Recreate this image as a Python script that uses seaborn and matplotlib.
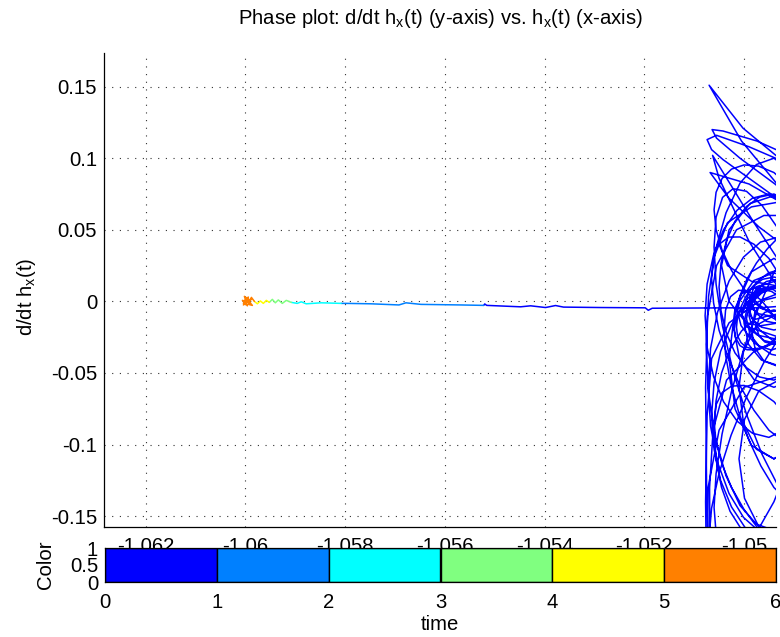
import numpy as np
import pandas as pd
import matplotlib
matplotlib.use("Agg")
import matplotlib.pyplot as plt
import seaborn as sns

# ---------------------------------------------------------------------------
# h_x(t) and d/dt h_x(t), one pair of arrays per unit of time
# ---------------------------------------------------------------------------
# t in [0, 1): oscillating start, then slow drift to the left
hx_t0 = [
    # spike
    -1.04905, -1.05002, -1.05070, -1.05005, -1.04936, -1.04905,
    # large loop
    -1.04872, -1.04940, -1.04975, -1.05008, -1.05036, -1.05058, -1.05071, -1.05076,
    -1.05071, -1.05058, -1.05036, -1.05008, -1.04975, -1.04940, -1.04872,
    # small loop
    -1.04900, -1.04930, -1.04960, -1.04982, -1.04990, -1.04982, -1.04960, -1.04930, -1.04900,
    # medium loop
    -1.04873, -1.04930, -1.04988, -1.05030, -1.05045, -1.05030, -1.04988, -1.04930, -1.04873,
    # spike
    -1.04910, -1.04974, -1.05042, -1.05064, -1.05055, -1.05008, -1.04938, -1.04910,
    # large loop
    -1.04859, -1.04930, -1.04967, -1.05001, -1.05030, -1.05053, -1.05067, -1.05072,
    -1.05067, -1.05053, -1.05030, -1.05001, -1.04967, -1.04930, -1.04859,
    # small loop
    -1.04915, -1.04940, -1.04965, -1.04983, -1.04990, -1.04983, -1.04965, -1.04940, -1.04915,
    # swing up from below
    -1.04900, -1.05070, -1.05075, -1.05077, -1.05073, -1.05055, -1.05015, -1.04960, -1.04910,
    # medium loop
    -1.04900, -1.04940, -1.04980, -1.05009, -1.05020, -1.05009, -1.04980, -1.04940, -1.04900,
    # large loop
    -1.04886, -1.04950, -1.04983, -1.05014, -1.05041, -1.05061, -1.05074, -1.05078,
    -1.05074, -1.05061, -1.05041, -1.05014, -1.04983, -1.04950, -1.04886,
    # small loop
    -1.04930, -1.04950, -1.04970, -1.04985, -1.04990, -1.04985, -1.04970, -1.04950, -1.04930,
    # spike
    -1.04905, -1.04990, -1.05068, -1.05030, -1.04970, -1.04905,
    # medium loop
    -1.04895, -1.04940, -1.04985, -1.05018, -1.05030, -1.05018, -1.04985, -1.04940, -1.04895,
    # large loop
    -1.04862, -1.04930, -1.04965, -1.04998, -1.05025, -1.05047, -1.05060, -1.05065,
    -1.05060, -1.05047, -1.05025, -1.04998, -1.04965, -1.04930, -1.04862,
    # small loop
    -1.04895, -1.04930, -1.04965, -1.04991, -1.05000, -1.04991, -1.04965, -1.04930, -1.04895,
    # spike
    -1.04910, -1.04990, -1.05055, -1.05074, -1.05065, -1.05042, -1.04974, -1.04910,
    # medium loop
    -1.04890, -1.04930, -1.04970, -1.04999, -1.05010, -1.04999, -1.04970, -1.04930, -1.04890,
    # large loop
    -1.04885, -1.04940, -1.04969, -1.04995, -1.05018, -1.05035, -1.05046, -1.05050,
    -1.05046, -1.05035, -1.05018, -1.04995, -1.04969, -1.04940, -1.04885,
    # small loop
    -1.04918, -1.04940, -1.04963, -1.04979, -1.04985, -1.04979, -1.04963, -1.04940, -1.04918,
    # swing down below
    -1.04910, -1.04980, -1.05035, -1.05062, -1.05069, -1.05068, -1.04900,
    # flat loop
    -1.04855, -1.04920, -1.04985, -1.05033, -1.05050, -1.05033, -1.04985, -1.04920, -1.04855,
    # large loop
    -1.04895, -1.04950, -1.04979, -1.05005, -1.05028, -1.05045, -1.05056, -1.05060,
    -1.05056, -1.05045, -1.05028, -1.05005, -1.04979, -1.04950, -1.04895,
    # small loops
    -1.04910, -1.04935, -1.04960, -1.04978, -1.04985, -1.04978, -1.04960, -1.04935, -1.04910,
    -1.04920, -1.04945, -1.04970, -1.04988, -1.04995, -1.04988, -1.04970, -1.04945, -1.04920,
    -1.04905, -1.04940, -1.04975, -1.05001, -1.05010, -1.05001, -1.04975, -1.04940, -1.04905,
    -1.04895, -1.04925, -1.04955, -1.04977, -1.04985, -1.04977, -1.04955, -1.04925, -1.04895,
    -1.04923, -1.04940, -1.04958, -1.04970, -1.04975, -1.04970, -1.04958, -1.04940, -1.04923,
    # tilted loops
    -1.04865, -1.04930, -1.04964, -1.04995, -1.05022, -1.05043, -1.05056, -1.05060,
    -1.05056, -1.05043, -1.05022, -1.04995, -1.04964, -1.04930, -1.04865,
    -1.04880, -1.04940, -1.04971, -1.05000, -1.05025, -1.05044, -1.05056, -1.05060,
    -1.05056, -1.05044, -1.05025, -1.05000, -1.04971, -1.04940, -1.04880,
    -1.04893, -1.04950, -1.04980, -1.05008, -1.05031, -1.05050, -1.05061, -1.05065,
    -1.05061, -1.05050, -1.05031, -1.05008, -1.04980, -1.04950, -1.04893,
    # swing up from below
    -1.04900, -1.05075, -1.05077, -1.05074, -1.05065, -1.05030, -1.04970, -1.04910,
    # tilted loops
    -1.04845, -1.04920, -1.04959, -1.04995, -1.05026, -1.05050, -1.05065, -1.05070,
    -1.05065, -1.05050, -1.05026, -1.04995, -1.04959, -1.04920, -1.04845,
    -1.04890, -1.04940, -1.04966, -1.04990, -1.05011, -1.05027, -1.05037, -1.05040,
    -1.05037, -1.05027, -1.05011, -1.04990, -1.04966, -1.04940, -1.04890,
    # spike
    -1.04905, -1.04980, -1.05063, -1.05050, -1.04990, -1.04905,
    # tilted loops
    -1.04885, -1.04930, -1.04953, -1.04975, -1.04994, -1.05008, -1.05017, -1.05020,
    -1.05017, -1.05008, -1.04994, -1.04975, -1.04953, -1.04930, -1.04885,
    -1.04880, -1.04940, -1.04971, -1.05000, -1.05025, -1.05044, -1.05056, -1.05060,
    -1.05056, -1.05044, -1.05025, -1.05000, -1.04971, -1.04940, -1.04880,
    # swing down below
    -1.04910, -1.05000, -1.05050, -1.05072, -1.05074, -1.04900,
    # tilted loops
    -1.04880, -1.04940, -1.04971, -1.05000, -1.05025, -1.05044, -1.05056, -1.05060,
    -1.05056, -1.05044, -1.05025, -1.05000, -1.04971, -1.04940, -1.04880,
    -1.04918, -1.04950, -1.04967, -1.04983, -1.04996, -1.05006, -1.05013, -1.05015,
    -1.05013, -1.05006, -1.04996, -1.04983, -1.04967, -1.04950, -1.04918,
    -1.04913, -1.04940, -1.04968, -1.04988, -1.04995, -1.04988, -1.04968, -1.04940, -1.04913,
    -1.04893, -1.04930, -1.04968, -1.04995, -1.05005, -1.04995, -1.04968, -1.04930, -1.04893,
    -1.04910, -1.04945, -1.04980, -1.05006, -1.05015, -1.05006, -1.04980, -1.04945, -1.04910,
    # last small loop
    -1.04908, -1.04940, -1.04973, -1.04996, -1.05005, -1.04996, -1.04973, -1.04940, -1.04908,
    # leaving the oscillation, drifting left
    -1.04930, -1.04970, -1.05022, -1.05088, -1.05184, -1.05192, -1.05198, -1.05288,
    -1.05362, -1.05378, -1.05398, -1.05428, -1.05448, -1.05516, -1.05520, -1.05522,
]
dhx_t0 = [
    0.093, 0.121, 0.151, 0.112, 0.083, 0.072,
    -0.1426, -0.16, -0.1556, -0.1426, -0.1219, -0.095, -0.0637, -0.03,
    0.0037, 0.035, 0.0619, 0.0826, 0.0956, 0.1, 0.0826,
    -0.0273, -0.03, -0.0273, -0.02, -0.01, 0.0, 0.0073, 0.01, 0.0073,
    -0.0183, -0.025, -0.0183, 0.0, 0.025, 0.05, 0.0683, 0.075, 0.0683,
    0.102, 0.112, 0.119, 0.12, 0.114, 0.1, 0.082, 0.074,
    -0.1509, -0.165, -0.1614, -0.1509, -0.1342, -0.1125, -0.0872, -0.06,
    -0.0328, -0.0075, 0.0142, 0.0309, 0.0414, 0.045, 0.0309,
    -0.018, -0.02, -0.018, -0.0125, -0.005, 0.0025, 0.008, 0.01, 0.008,
    -0.2, -0.2, -0.13, -0.06, -0.01, 0.025, 0.05, 0.06, 0.06,
    -0.0546, -0.06, -0.0546, -0.04, -0.02, 0.0, 0.0146, 0.02, 0.0146,
    -0.0836, -0.095, -0.0921, -0.0836, -0.0701, -0.0525, -0.032, -0.01,
    0.012, 0.0325, 0.0501, 0.0636, 0.0721, 0.075, 0.0636,
    -0.0087, -0.01, -0.0087, -0.005, 0.0, 0.005, 0.0087, 0.01, 0.0087,
    0.065, 0.082, 0.09, 0.072, 0.052, 0.035,
    -0.1006, -0.11, -0.1006, -0.075, -0.04, -0.005, 0.0206, 0.03, 0.0206,
    -0.1579, -0.17, -0.1669, -0.1579, -0.1436, -0.125, -0.1033, -0.08,
    -0.0567, -0.035, -0.0164, -0.0021, 0.0069, 0.01, -0.0021,
    -0.041, -0.045, -0.041, -0.03, -0.015, 0.0, 0.011, 0.015, 0.011,
    0.096, 0.108, 0.116, 0.113, 0.106, 0.099, 0.082, 0.066,
    -0.1576, -0.165, -0.1576, -0.1375, -0.11, -0.0825, -0.0624, -0.055, -0.0624,
    -0.0463, -0.055, -0.0528, -0.0463, -0.036, -0.0225, -0.0068, 0.01,
    0.0268, 0.0425, 0.056, 0.0663, 0.0728, 0.075, 0.0663,
    -0.0054, -0.007, -0.0054, -0.001, 0.005, 0.011, 0.0154, 0.017, 0.0154,
    -0.025, -0.035, -0.055, -0.09, -0.13, -0.2, -0.2,
    0.014, 0.01, 0.014, 0.025, 0.04, 0.055, 0.066, 0.07, 0.066,
    -0.1593, -0.17, -0.1673, -0.1593, -0.1466, -0.13, -0.1107, -0.09,
    -0.0693, -0.05, -0.0334, -0.0207, -0.0127, -0.01, -0.0207,
    -0.0417, -0.045, -0.0417, -0.0325, -0.02, -0.0075, 0.0017, 0.005, 0.0017,
    -0.0311, -0.034, -0.0311, -0.023, -0.012, -0.001, 0.0071, 0.01, 0.0071,
    -0.1033, -0.11, -0.1033, -0.085, -0.06, -0.035, -0.0167, -0.01, -0.0167,
    -0.0139, -0.016, -0.0139, -0.008, 0.0, 0.008, 0.0139, 0.016, 0.0139,
    -0.0284, -0.03, -0.0284, -0.024, -0.018, -0.012, -0.0076, -0.006, -0.0076,
    -0.1569, -0.13, -0.1067, -0.0789, -0.0485, -0.0174, 0.0121, 0.038,
    0.0587, 0.0726, 0.0787, 0.0769, 0.0671, 0.05, -0.0011,
    -0.0873, -0.14, -0.1591, -0.1713, -0.176, -0.1727, -0.1618, -0.144,
    -0.1204, -0.0927, -0.0628, -0.0327, -0.0045, 0.02, 0.0513,
    -0.105, -0.09, -0.0761, -0.059, -0.0399, -0.0202, -0.0011, 0.016,
    0.0299, 0.0398, 0.0449, 0.045, 0.0399, 0.03, -0.001,
    -0.2, -0.2, -0.14, -0.08, -0.04, -0.015, 0.0, 0.005,
    -0.1131, -0.16, -0.1771, -0.1881, -0.1926, -0.19, -0.1806, -0.165,
    -0.1444, -0.12, -0.0936, -0.0669, -0.0419, -0.02, 0.0081,
    -0.147, -0.13, -0.115, -0.097, -0.077, -0.0567, -0.0372, -0.02,
    -0.0062, 0.0033, 0.0078, 0.007, 0.001, -0.01, -0.043,
    0.015, 0.055, 0.102, 0.086, 0.042, -0.005,
    -0.0068, -0.025, -0.0308, -0.0338, -0.0338, -0.0309, -0.0252, -0.017,
    -0.007, 0.0041, 0.0156, 0.0268, 0.0368, 0.045, 0.0538,
    -0.1813, -0.17, -0.159, -0.1453, -0.13, -0.1138, -0.0982, -0.084,
    -0.0722, -0.0638, -0.0592, -0.0587, -0.0624, -0.07, -0.0947,
    -0.05, -0.06, -0.09, -0.13, -0.2, -0.2,
    -0.0153, -0.01, -0.0021, 0.0087, 0.0216, 0.0358, 0.0502, 0.064,
    0.0762, 0.0858, 0.0924, 0.0953, 0.0945, 0.09, 0.0713,
    -0.0202, -0.03, -0.0326, -0.0332, -0.0319, -0.0288, -0.0241, -0.018,
    -0.0111, -0.0038, 0.0035, 0.0102, 0.0158, 0.02, 0.0232,
    -0.0311, -0.028, -0.0201, -0.0095, 0.001, 0.0085, 0.0111, 0.008, 0.0001,
    -0.0095, -0.015, -0.0171, -0.015, -0.0095, -0.002, 0.0055, 0.011, 0.0131,
    -0.0394, -0.037, -0.0288, -0.0169, -0.0045, 0.0051, 0.0094, 0.007, -0.0012,
    -0.0236, -0.026, -0.0236, -0.017, -0.008, 0.001, 0.0076, 0.01, 0.0076,
    -0.0035, -0.0045, -0.0045, -0.0046, -0.0048, -0.0062, -0.0045, -0.0043,
    -0.0040, -0.0029, -0.0043, -0.0031, -0.0038, -0.0028, -0.0018, -0.0028,
]
# t in [1, 2)
hx_t1 = [-1.05522, -1.05568, -1.05648, -1.05678, -1.05692, -1.05748, -1.05798, -1.05808]
dhx_t1 = [-0.0028, -0.0025, -0.0021, -0.0010, -0.0025, -0.0017, -0.0014, -0.0014]
# t in [2, 3)
hx_t2 = [-1.05808, -1.05848, -1.05878, -1.05888, -1.05896, -1.05908]
dhx_t2 = [-0.0014, -0.0010, -0.0017, -0.0003, -0.0014, -0.0007]
# t in [3, 4)
hx_t3 = [-1.05908, -1.05918, -1.05926, -1.05934, -1.05940, -1.05946, -1.05952]
dhx_t3 = [-0.0007, 0.0007, -0.0014, 0.0010, -0.0010, 0.0014, -0.0007]
# t in [4, 5)
hx_t4 = [-1.05952, -1.05958, -1.05964, -1.05970, -1.05976, -1.05982]
dhx_t4 = [-0.0007, 0.0007, -0.0014, 0.0003, -0.0017, 0.0]
# t in [5, 6]
hx_t5 = [-1.05982, -1.05988, -1.05994, -1.05986, -1.05998, -1.06004, -1.05992,
         -1.06002, -1.05996, -1.06006, -1.05990, -1.06000, -1.05994, -1.06004,
         -1.05988, -1.06000]
dhx_t5 = [0.0, 0.0028, -0.0021, -0.0028, 0.0021, -0.0014, 0.0007,
          0.0035, -0.0031, 0.0007, -0.0010, 0.0, 0.0030, -0.0025,
          0.0014, 0.0010]

time_start = [0, 1, 2, 3, 4, 5]
time_colors = ["#0000FF", "#0080FF", "#00FFFF", "#80FF80", "#FFFF00", "#FF8000"]

x_ticks = [-1.062, -1.060, -1.058, -1.056, -1.054, -1.052, -1.050]
x_tick_labels = ["-1.062", "-1.06", "-1.058", "-1.056", "-1.054", "-1.052", "-1.05"]
y_ticks = [-0.15, -0.10, -0.05, 0.0, 0.05, 0.10, 0.15]
y_tick_labels = ["-0.15", "-0.1", "-0.05", "0", "0.05", "0.1", "0.15"]
time_ticks = [0, 1, 2, 3, 4, 5, 6]
color_ticks = [0, 0.5, 1]
color_tick_labels = ["0", "0.5", "1"]

# ---------------------------------------------------------------------------
segments_hx = [hx_t0, hx_t1, hx_t2, hx_t3, hx_t4, hx_t5]
segments_dhx = [dhx_t0, dhx_t1, dhx_t2, dhx_t3, dhx_t4, dhx_t5]
frames = []
for t0, hx, dhx in zip(time_start, segments_hx, segments_dhx):
    frames.append(pd.DataFrame({"hx": hx, "dhx": dhx, "time": f"{t0}-{t0 + 1}"}))
df = pd.concat(frames, ignore_index=True)
levels = [f"{t}-{t + 1}" for t in time_start]
palette = dict(zip(levels, time_colors))

sns.set_theme(style="white")
plt.rcParams["font.family"] = ["Liberation Sans", "DejaVu Sans"]
plt.rcParams["mathtext.fontset"] = "custom"
plt.rcParams["mathtext.rm"] = "Liberation Sans"
plt.rcParams["mathtext.it"] = "Liberation Sans"
plt.rcParams["mathtext.default"] = "regular"
FS = 14.6

W, H = 780, 637
fig = plt.figure(figsize=(W / 100, H / 100), dpi=100)
fig.patch.set_facecolor("white")

# phase-plane axes
ax = fig.add_axes([104 / W, 1 - 527 / H, 672 / W, (527 - 52.7) / H])
sns.lineplot(data=df, x="hx", y="dhx", hue="time", hue_order=levels,
             palette=palette, sort=False, estimator=None, legend=False,
             linewidth=1.1, ax=ax)
ax.set_xlim(-1.062836, -1.049358)
ax.set_ylim(-0.1576, 0.1737)
ax.set_xticks(x_ticks)
ax.set_xticklabels(x_tick_labels)
ax.set_yticks(y_ticks)
ax.set_yticklabels(y_tick_labels)
ax.set_xlabel("")
ax.set_ylabel("")
ax.tick_params(axis="both", direction="in", length=6, width=0.8, color="black",
               labelsize=FS, labelcolor="black")
ax.tick_params(axis="x", pad=7)
ax.tick_params(axis="y", pad=5)
for side in ("top", "right"):
    ax.spines[side].set_visible(False)
for side in ("left", "bottom"):
    ax.spines[side].set_color("black")
    ax.spines[side].set_linewidth(0.9)
ax.grid(True, color="#303030", linewidth=0.8, linestyle=(0, (1, 5.9)))
ax.set_axisbelow(True)

fig.text(440 / W, 1 - 18 / H,
         r"Phase plot: d/dt h$_{x}$(t) (y-axis) vs. h$_{x}$(t) (x-axis)",
         ha="center", va="center", fontsize=FS, color="black")
fig.text(26 / W, 1 - 297 / H, r"d/dt h$_{x}$(t)", rotation=90,
         ha="center", va="center", fontsize=FS, color="black")

# time colour key
cax = fig.add_axes([105 / W, 1 - 582 / H, 671 / W, 34 / H])
cax.set_facecolor("white")
cax.bar(time_start, [1] * len(time_start), width=1, align="edge",
        color=time_colors, edgecolor="black", linewidth=1.0)
cax.set_xlim(0, 6)
cax.set_ylim(0, 1)
cax.set_xticks(time_ticks)
cax.set_xticklabels([str(t) for t in time_ticks])
cax.set_yticks(color_ticks)
cax.set_yticklabels(color_tick_labels)
cax.tick_params(axis="both", length=0, labelsize=FS, labelcolor="black")
cax.tick_params(axis="x", pad=8)
cax.tick_params(axis="y", pad=5)
for side in cax.spines.values():
    side.set_color("black")
    side.set_linewidth(0.9)
cax.grid(False)
fig.text(440 / W, 1 - 625 / H, "time", ha="center", va="center",
         fontsize=FS, color="black")
fig.text(45 / W, 1 - 565 / H, "Color", rotation=90, ha="center", va="center",
         fontsize=FS, color="black")

fig.savefig("out.png", dpi=100, facecolor="white")
